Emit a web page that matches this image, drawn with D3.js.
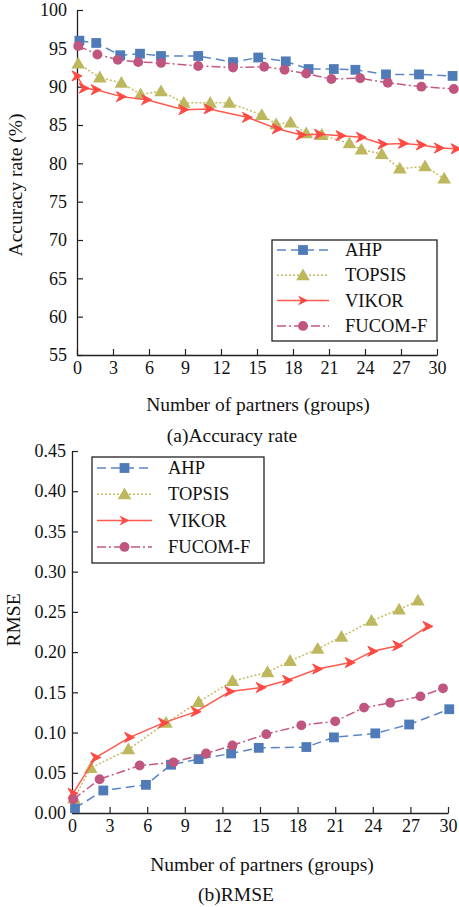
<!DOCTYPE html>
<html>
<head>
<meta charset="utf-8">
<script src="https://cdn.jsdelivr.net/npm/d3@7"></script>
<style>
  body { margin: 0; background: #fff; }
  svg { display: block; }
  text { font-family: "Liberation Serif", "Times New Roman", serif; fill: #111; }
</style>
</head>
<body>
<svg id="chart" width="459" height="907"></svg>
<script>
// ---- data ----
const seriesNames = ['AHP', 'TOPSIS', 'VIKOR', 'FUCOM-F'];
const xTicks = [0, 3, 6, 9, 12, 15, 18, 21, 24, 27, 30];
const accTicks = [55, 60, 65, 70, 75, 80, 85, 90, 95, 100];
const rmseTicks = [0, 0.05, 0.10, 0.15, 0.20, 0.25, 0.30, 0.35, 0.40, 0.45];

// (a) accuracy rate, [groups, %]
const accAHP = [[0.2, 96.0], [1.6, 95.7], [3.6, 94.1], [5.25, 94.3], [7.0, 94.0], [10.1, 94.0], [13.0, 93.2],
    [15.1, 93.8], [17.4, 93.3], [19.3, 92.3], [21.4, 92.3], [23.2, 92.2], [25.75, 91.6], [28.5, 91.6], [31.3, 91.4]];
const accTOPSIS = [[0.1, 93.0], [1.9, 91.2], [3.7, 90.5], [5.3, 89.0], [7.0, 89.4], [8.9, 87.9], [11.1, 87.9], [12.7, 87.9],
    [15.4, 86.3], [16.6, 85.1], [17.8, 85.3], [19.1, 83.9], [20.4, 83.7], [22.7, 82.6], [23.7, 81.8], [25.4, 81.2],
    [26.9, 79.3], [29.0, 79.6], [30.6, 78.0]];
const accVIKOR = [[0.0, 91.4], [0.6, 89.8], [1.6, 89.6], [3.7, 88.7], [5.8, 88.3], [8.9, 87.0], [11.0, 87.1], [14.2, 86.0],
    [16.7, 84.5], [18.7, 83.7], [20.2, 83.8], [22.0, 83.6], [23.7, 83.4], [25.5, 82.5], [27.2, 82.6], [28.7, 82.4],
    [30.2, 82.0], [31.6, 81.9]];
const accFUCOM = [[0.1, 95.3], [1.7, 94.2], [3.4, 93.5], [5.1, 93.2], [7.0, 93.1], [10.1, 92.7], [13.0, 92.5],
    [15.6, 92.6], [17.3, 92.2], [19.1, 91.7], [21.2, 91.0], [23.6, 91.1], [25.9, 90.5], [28.7, 90.0], [31.4, 89.7]];

// (b) RMSE, [groups, rmse]
const rmseAHP = [[0.24, 0.006], [2.5, 0.028], [5.9, 0.035], [7.9, 0.060], [10.1, 0.067], [12.7, 0.074], [14.9, 0.081],
    [18.7, 0.082], [20.9, 0.094], [24.2, 0.099], [26.9, 0.110], [30.1, 0.129]];
const rmseTOPSIS = [[0.16, 0.018], [1.5, 0.056], [4.5, 0.079], [7.5, 0.112], [10.1, 0.138], [12.8, 0.164], [15.6, 0.175],
    [17.4, 0.189], [19.6, 0.204], [21.5, 0.219], [23.9, 0.239], [26.1, 0.253], [27.6, 0.264]];
const rmseVIKOR = [[0.08, 0.0245], [1.9, 0.069], [4.6, 0.094], [7.3, 0.112], [9.9, 0.126], [12.6, 0.151], [15.1, 0.156],
    [17.2, 0.165], [19.6, 0.179], [22.2, 0.187], [24.0, 0.201], [26.0, 0.208], [28.4, 0.232]];
const rmseFUCOM = [[0.1, 0.017], [2.2, 0.042], [5.4, 0.059], [8.1, 0.063], [10.7, 0.074], [12.8, 0.084], [15.5, 0.098],
    [18.3, 0.109], [21.0, 0.114], [23.3, 0.131], [25.4, 0.137], [27.8, 0.145], [29.6, 0.155]];

// ---- styles ----
const styles = {
    'AHP': {line: '#5b86c3', fill: '#4f7bb8', dash: '9,5', marker: 'square'},
    'TOPSIS': {line: '#c2bd62', fill: '#bdb85e', dash: '2,2', marker: 'triangle'},
    'VIKOR': {line: '#ff5a4e', fill: '#ff4a44', dash: null, marker: 'arrow'},
    'FUCOM-F': {line: '#c45a82', fill: '#c0557f', dash: '9,3,2,3', marker: 'circle'}
};

const svg = d3.select('#chart');

function markerPath(type) {
    if (type === 'square') return d3.symbol().type(d3.symbolSquare).size(96)();
    if (type === 'triangle') return d3.symbol().type(d3.symbolTriangle).size(80)();
    if (type === 'circle') return d3.symbol().type(d3.symbolCircle).size(76)();
    // chevron arrow
    return 'M-5,-5 L5,0 L-5,5 L-2,0 Z';
}

function drawPanel(cfg) {
    let g = svg.append('g');
    let x = d3.scaleLinear().domain([0, 30]).range([cfg.left, cfg.right]);
    let y = d3.scaleLinear().domain(cfg.yDomain).range([cfg.bottom, cfg.top]);

    g.append('g')
        .attr('transform', 'translate(0,' + cfg.bottom + ')')
        .call(d3.axisBottom(x).tickValues(xTicks).tickSizeInner(-6).tickSizeOuter(0).tickPadding(6));
    g.append('g')
        .attr('transform', 'translate(' + cfg.left + ',0)')
        .call(d3.axisLeft(y).tickValues(cfg.yTicks).tickFormat(cfg.yFormat).tickSizeInner(-6).tickSizeOuter(0).tickPadding(cfg.yPad));
    g.selectAll('.domain').attr('stroke', '#222').attr('stroke-width', 1.3);
    g.selectAll('.tick line').attr('stroke', '#222').attr('stroke-width', 1.2);
    g.selectAll('.tick text').style('font-size', '18px').attr('fill', '#111')
        .style('font-family', '"Liberation Serif", serif');

    // series
    cfg.series.forEach(function(s) {
        let st = styles[s.name];
        let line = d3.line().x(d => x(d[0])).y(d => y(d[1]));
        g.append('path')
            .datum(s.data)
            .attr('d', line)
            .attr('fill', 'none')
            .attr('stroke', st.line)
            .attr('stroke-width', 1.5)
            .attr('stroke-dasharray', st.dash);
        g.selectAll('path.m_' + st.marker)
            .data(s.data)
            .enter()
            .append('path')
            .attr('class', 'm_' + st.marker)
            .attr('d', markerPath(st.marker))
            .attr('transform', d => 'translate(' + x(d[0]) + ',' + (y(d[1]) + (st.marker === 'triangle' ? 1 : 0)) + ')')
            .attr('fill', st.fill)
            .attr('stroke', st.marker === 'arrow' ? st.fill : 'none')
            .attr('stroke-width', 1);
    });

    // legend
    let lg = g.append('g');
    lg.append('rect')
        .attr('x', cfg.legend.x).attr('y', cfg.legend.y)
        .attr('width', cfg.legend.w).attr('height', cfg.legend.h)
        .attr('fill', '#fff').attr('stroke', '#222').attr('stroke-width', 1.3);
    seriesNames.forEach(function(name, i) {
        let st = styles[name];
        let ry = cfg.legend.y + cfg.legend.rowTop + i * cfg.legend.rowStep;
        lg.append('line')
            .attr('x1', cfg.legend.x + 5).attr('x2', cfg.legend.x + 5 + cfg.legend.lineLen)
            .attr('y1', ry).attr('y2', ry)
            .attr('stroke', st.line).attr('stroke-width', 1.5)
            .attr('stroke-dasharray', st.dash);
        lg.append('path')
            .attr('d', markerPath(st.marker))
            .attr('transform', 'translate(' + (cfg.legend.x + 5 + cfg.legend.lineLen / 2) + ',' + (ry + (st.marker === 'triangle' ? 1 : 0)) + ')')
            .attr('fill', st.fill);
        lg.append('text')
            .attr('x', cfg.legend.x + cfg.legend.textOff)
            .attr('y', ry + 6)
            .style('font-size', '18.5px')
            .text(name);
    });

    // titles
    g.append('text')
        .attr('x', cfg.yTitle.x).attr('y', cfg.yTitle.y)
        .attr('transform', 'rotate(-90,' + cfg.yTitle.x + ',' + cfg.yTitle.y + ')')
        .attr('text-anchor', 'middle')
        .style('font-size', '19.5px')
        .text(cfg.yTitle.text);
    g.append('text')
        .attr('x', cfg.xTitle.x).attr('y', cfg.xTitle.y)
        .attr('text-anchor', 'middle')
        .style('font-size', '19.5px')
        .text('Number of partners (groups)');
    g.append('text')
        .attr('x', cfg.caption.x).attr('y', cfg.caption.y)
        .attr('text-anchor', 'middle')
        .style('font-size', '19.5px')
        .text(cfg.caption.text);
}

drawPanel({
    left: 77, right: 437, top: 10, bottom: 355, yPad: 10,
    yDomain: [55, 100], yTicks: accTicks, yFormat: d3.format('d'),
    series: [
        {name: 'AHP', data: accAHP},
        {name: 'TOPSIS', data: accTOPSIS},
        {name: 'VIKOR', data: accVIKOR},
        {name: 'FUCOM-F', data: accFUCOM}
    ],
    legend: {x: 272, y: 240, w: 165, h: 101, rowTop: 10, rowStep: 25.3, lineLen: 52, textOff: 73},
    yTitle: {x: 22, y: 185, text: 'Accuracy rate (%)'},
    xTitle: {x: 258, y: 411},
    caption: {x: 232, y: 442, text: '(a)Accuracy rate'}
});

drawPanel({
    left: 72, right: 448, top: 451, bottom: 813, yPad: 6,
    yDomain: [0, 0.45], yTicks: rmseTicks, yFormat: d3.format('.2f'),
    series: [
        {name: 'AHP', data: rmseAHP},
        {name: 'TOPSIS', data: rmseTOPSIS},
        {name: 'VIKOR', data: rmseVIKOR},
        {name: 'FUCOM-F', data: rmseFUCOM}
    ],
    legend: {x: 92, y: 457, w: 172, h: 106, rowTop: 11, rowStep: 26.3, lineLen: 55, textOff: 76},
    yTitle: {x: 20, y: 620, text: 'RMSE'},
    xTitle: {x: 262, y: 871},
    caption: {x: 236, y: 901, text: '(b)RMSE'}
});
</script>
</body>
</html>
